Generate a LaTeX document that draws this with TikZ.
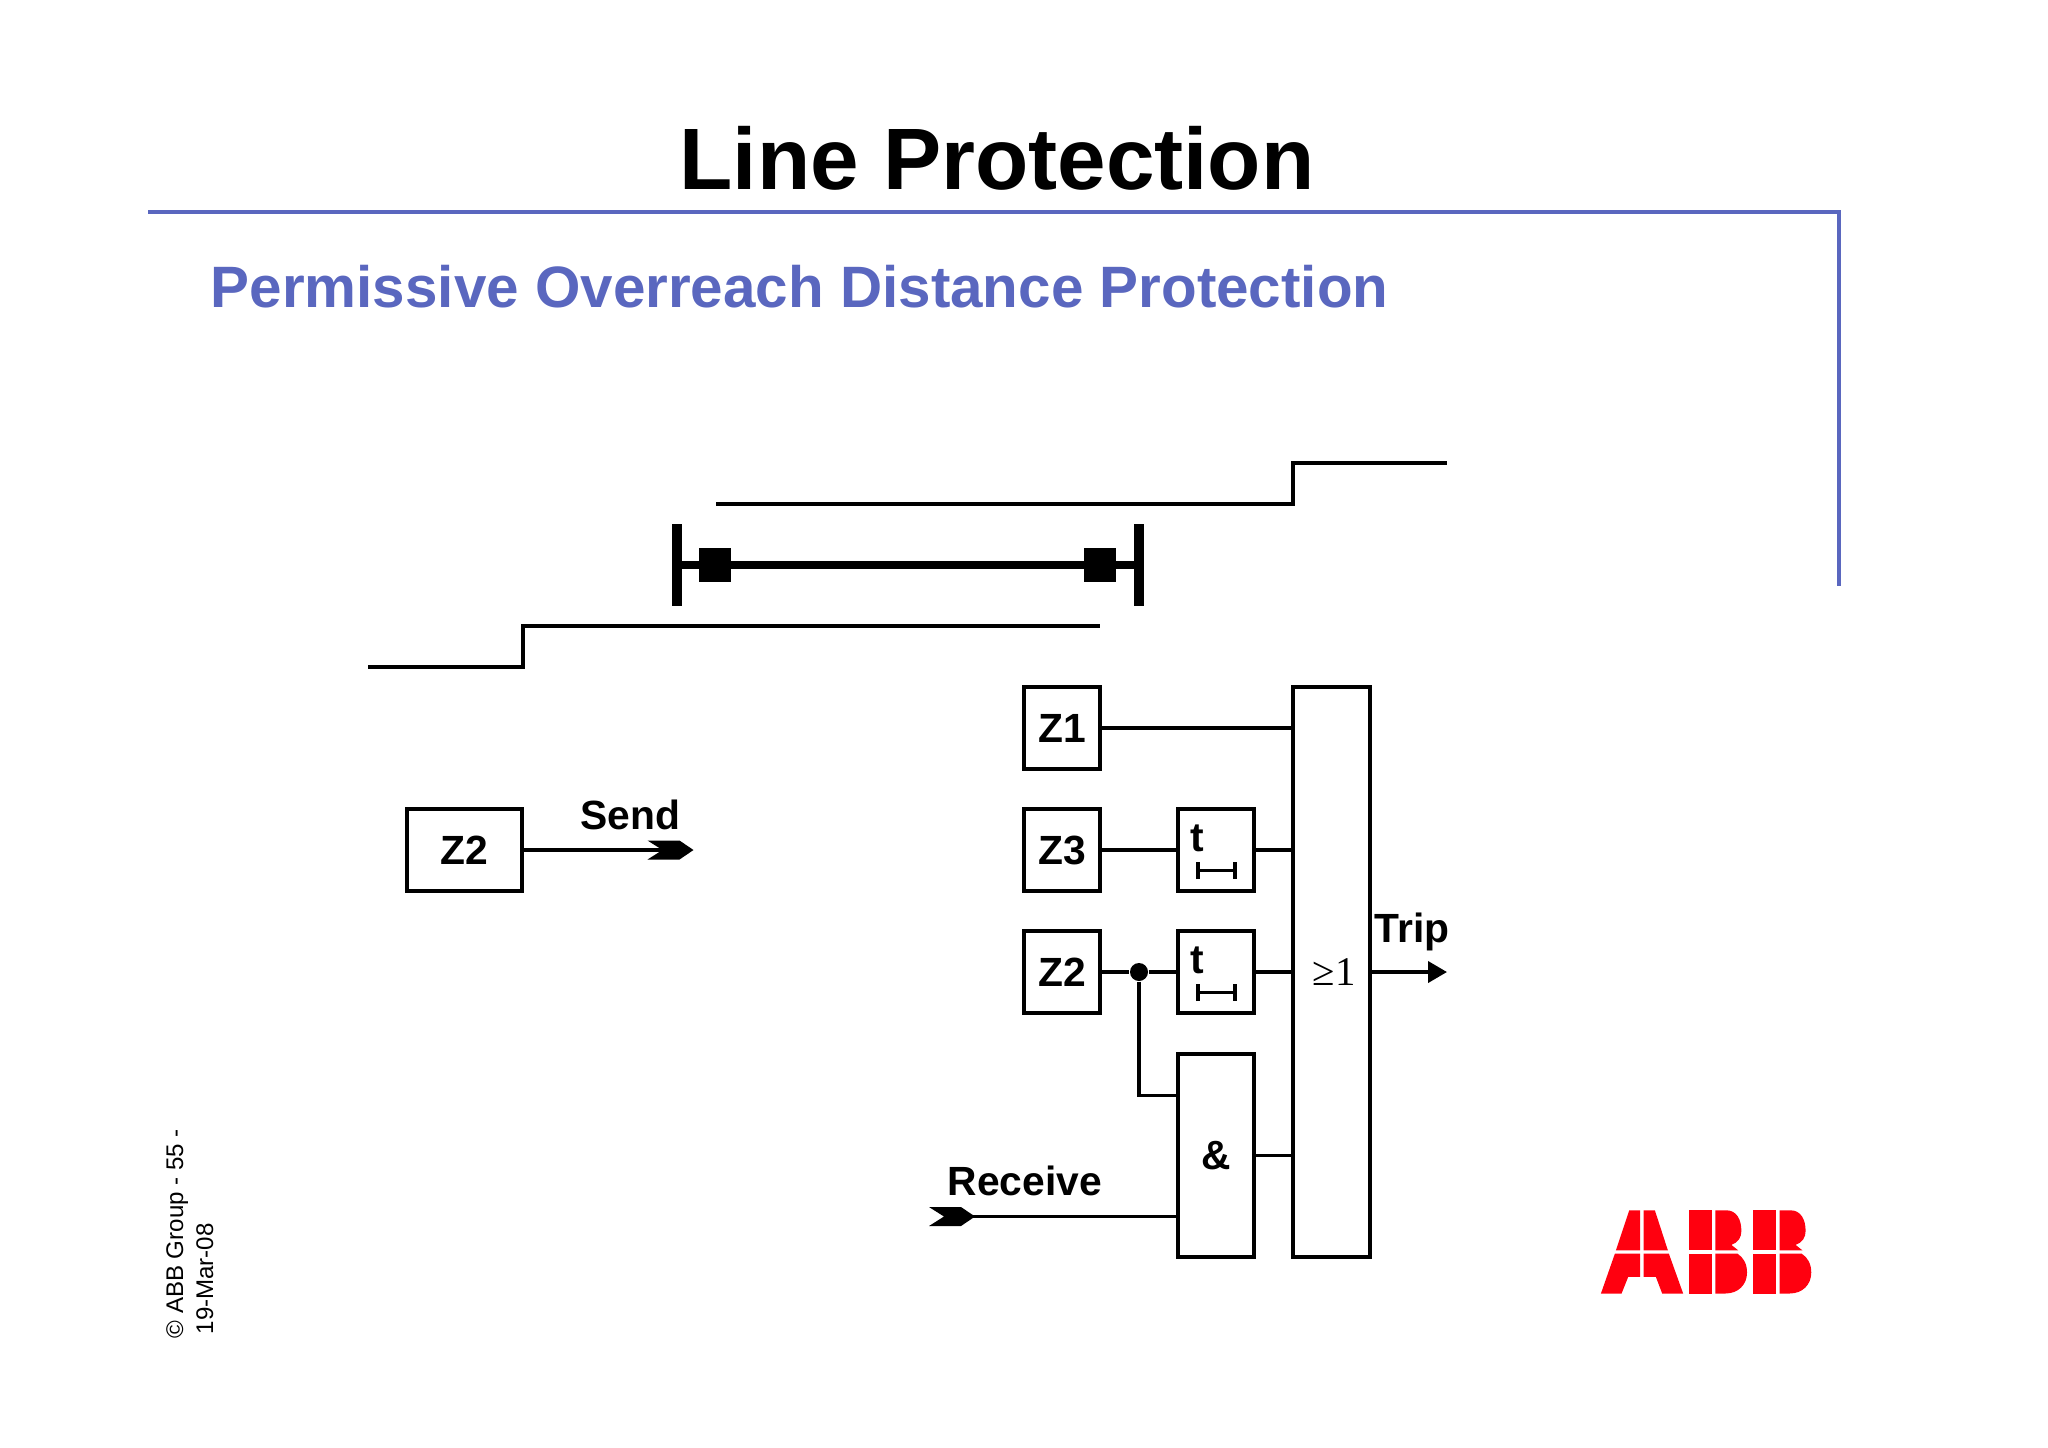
\documentclass[tikz,border=0pt]{standalone}
\usepackage{fontspec}
\setmainfont{Liberation Sans}
\newfontfamily\serifsym{Liberation Serif}
\usetikzlibrary{arrows.meta}
\definecolor{slideBlue}{HTML}{5A67BF}
\definecolor{abbRed}{HTML}{FF000F}
\begin{document}
\begin{tikzpicture}
[x=0.01cm,y=-0.01cm,%
  lineDecorate/.style={-,line width=1.1pt},%
  reachDecorate/.style={-,line width=1.2pt},%
  boxDecorate/.style={shape=rectangle,draw,fill=white,line width=1.15pt,inner sep=0pt,
    minimum width=0.765cm,minimum height=0.815cm,font=\fontsize{11.6}{13}\selectfont\bfseries},%
  gateDecorate/.style={boxDecorate,minimum height=2.025cm},%
  labelDecorate/.style={inner sep=0pt,anchor=base west,font=\fontsize{11.6}{13}\selectfont\bfseries},%
  barDecorate/.style={shape=rectangle,fill=black,inner sep=0pt,outer sep=0pt,minimum width=0.105cm,minimum height=0.82cm},%
  breakerDecorate/.style={shape=rectangle,fill=black,inner sep=0pt,minimum width=0.32cm,minimum height=0.34cm},%
  signalTip/.pic={\fill[black] (-46,-9.5) -- (-14,-9.5) -- (0,0) -- (-14,9.5) -- (-46,9.5) -- (-31,0) -- cycle;}]
\useasboundingbox (0,0) rectangle (2048,1447);
%% heading
\node (title) at (997,189.5) [inner sep=0pt,anchor=base,font=\fontsize{24.8}{28}\selectfont\bfseries] {Line Protection};
\node (subtitle) at (210,307) [inner sep=0pt,anchor=base west,text=slideBlue,font=\fontsize{16.6}{20}\selectfont\bfseries] {Permissive Overreach Distance Protection};
\coordinate (ruleA) at (148,212);
\coordinate (ruleB) at (1839,212);
\coordinate (ruleC) at (1839,586);
\draw[slideBlue,line width=1pt] (ruleA) -- (ruleB) -- (ruleC);
%% line with breakers
\node (busA) at (677,565) [barDecorate] {};
\node (busB) at (1139,565) [barDecorate] {};
\node (cbA) at (715,565) [breakerDecorate] {};
\node (cbB) at (1100,565) [breakerDecorate] {};
\draw[line width=2.3pt] (busA) -- (busB);
%% reach steps
\foreach \nodename/\x/\y in {
  upA/716/504, upB/1293/504, upC/1293/463, upD/1447/463,
  lowA/368/667, lowB/523/667, lowC/523/626, lowD/1100/626}
{
  \coordinate (\nodename) at (\x,\y);
}
\draw[reachDecorate] (upA) -- (upB) -- (upC) -- (upD);
\draw[reachDecorate] (lowA) -- (lowB) -- (lowC) -- (lowD);
%% boxes
\foreach \nodename/\nodetext/\x/\y in {
  zSend/Z2/0/0, z1/Z1/1062/728, z3/Z3/1062/850, z2/Z2/1062/972}
{
  \ifnum\x=0
    \node (\nodename) at (464.5,850) [boxDecorate,minimum width=1.155cm] {\nodetext};
  \else
    \node (\nodename) at (\x,\y) [boxDecorate] {\nodetext};
  \fi
}
\foreach \nodename/\y in {timerA/850, timerB/972}
{
  \node (\nodename) at (1216,\y) [boxDecorate] {};
  \node (\nodename t) at (1190,\y+1) [labelDecorate] {t};
  \draw[{Bar[width=0.17cm,line width=1.1pt]}-{Bar[width=0.17cm,line width=1.1pt]},line width=1.1pt] (1196,\y+20.5) -- (1237,\y+20.5);
}
\node (andBox) at (1216,1155.5) [gateDecorate] {\&};
\node (orBox) at (1331.5,972) [boxDecorate,minimum height=5.705cm] {\hspace{0.05cm}\fontsize{11.6}{13}\selectfont\serifsym\mdseries ≥1};
%% free ends and junctions
\node (z2Dot) at (1139,972) [shape=circle,fill=black,inner sep=0pt,minimum size=0.18cm] {};
\foreach \nodename/\x/\y in {
  orInA/1292/728, orInB/1292/850, orInC/1292/972, orInD/1292/1155.5,
  andInA/1177/1095.5, andInB/1177/1216.5, recvTip/975/1216.5, recvEnd/965/1216.5,
  sendTip/693.5/850, sendEnd/680/850, tripEnd/1447/972}
{
  \coordinate (\nodename) at (\x,\y);
}
%% edges or lines
\path
\foreach \startnode/\endnode in {
  z1/orInA, z3/timerA, timerA/orInB, z2/z2Dot, z2Dot/timerB, timerB/orInC, andBox/orInD, recvEnd/andInB, zSend/sendEnd}
{
  (\startnode) edge[lineDecorate] (\endnode)
};
\draw[lineDecorate] (z2Dot) |- (andInA);
\draw[lineDecorate,-{Triangle[length=0.19cm,width=0.21cm]}] (orBox.east |- tripEnd) -- (tripEnd);
\pic at (sendTip) {signalTip};
\pic at (recvTip) {signalTip};
%% labels
\node (sendLabel) at (580,829) [labelDecorate] {Send};
\node (recvLabel) at (947,1195) [labelDecorate] {Receive};
\node (tripLabel) at (1374,942) [labelDecorate] {Trip};
%% footer
\node (footA) at (183,1339) [inner sep=0pt,anchor=base west,rotate=90,font=\fontsize{6.85}{8}\selectfont] {© ABB Group - 55 -};
\node (footB) at (213,1335) [inner sep=0pt,anchor=base west,rotate=90,font=\fontsize{6.85}{8}\selectfont] {19-Mar-08};
%% logo
\begin{scope}[shift={(1560,1181)},x=0.00333cm,y=-0.00333cm]
  \fill[abbRed] (208,88) -- (241,88) -- (241,208) -- (168,208) -- cycle;
  \fill[abbRed] (251,88) -- (285,88) -- (324,208) -- (251,208) -- cycle;
  \fill[abbRed] (165,218) -- (241,218) -- (241,288) -- (205,288) -- (185,338) -- (123,338) -- cycle;
  \fill[abbRed] (251,218) -- (327,218) -- (370,338) -- (307,338) -- (288,288) -- (251,288) -- cycle;
  \foreach \bshift in {0,193}
  {
    \begin{scope}[shift={(\bshift,0)}]
      \fill[abbRed] (387,88) rectangle (457,208);
      \fill[abbRed] (387,218) rectangle (457,338);
      \fill[abbRed] (467,88) -- (500,88) .. controls (530,88) and (545,115) .. (545,150) .. controls (545,170) and (535,185) .. (515,192) -- (535,208) -- (467,208) -- cycle;
      \fill[abbRed] (467,218) -- (533,218) .. controls (552,230) and (562,250) .. (562,275) .. controls (562,312) and (535,338) .. (497,338) -- (467,338) -- cycle;
    \end{scope}
  }
\end{scope}
\end{tikzpicture}
\end{document}
